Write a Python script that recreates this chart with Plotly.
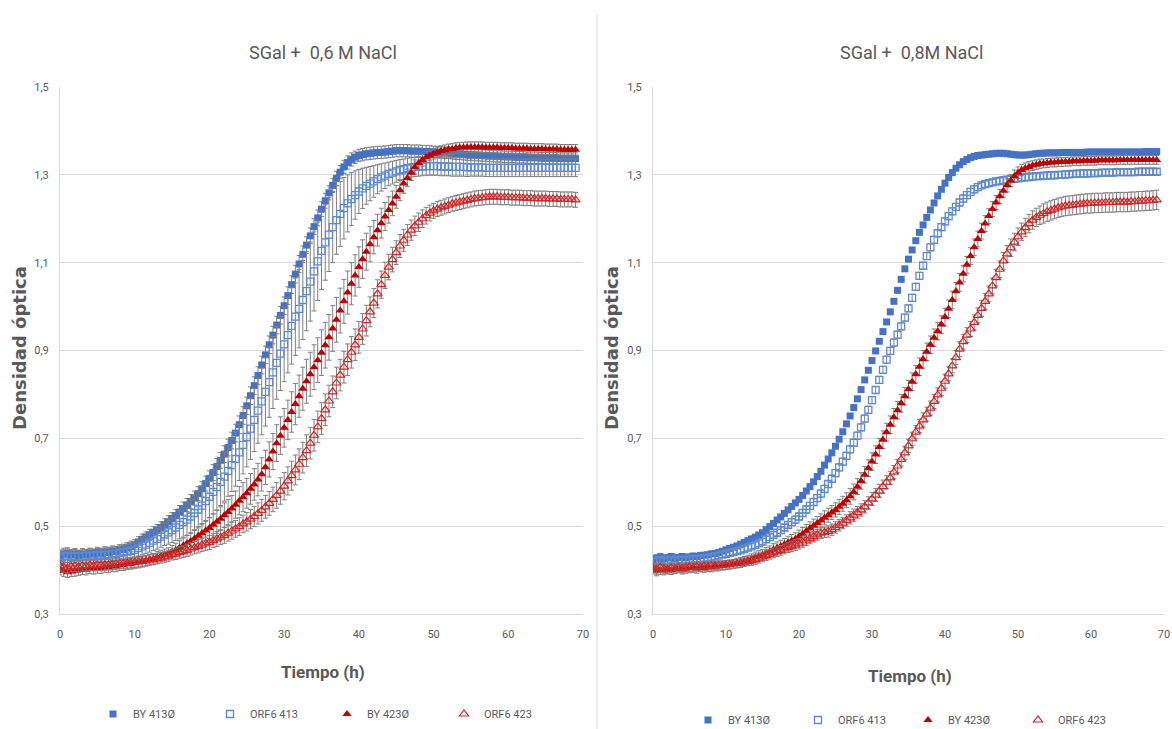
import plotly.graph_objects as go

# Time grid (h), one reading every 0.5 h from 0 to 69 h
time_h = [i * 0.5 for i in range(139)]

# ---------------- Left panel: SGal + 0,6 M NaCl ----------------
L_BY413 = [
 0.432,0.436,0.438,0.434,0.436,0.433,0.437,0.435,0.438,0.436,
 0.440,0.438,0.441,0.440,0.443,0.442,0.446,0.447,0.451,0.454,
 0.458,0.464,0.470,0.475,0.480,0.486,0.491,0.497,0.503,0.510,
 0.517,0.524,0.532,0.540,0.548,0.556,0.564,0.574,0.585,0.597,
 0.609,0.622,0.636,0.650,0.664,0.679,0.695,0.712,0.731,0.752,
 0.774,0.797,0.820,0.843,0.867,0.890,0.913,0.935,0.958,0.980,
 1.002,1.025,1.050,1.074,1.097,1.119,1.140,1.161,1.182,1.202,
 1.222,1.241,1.259,1.276,1.292,1.306,1.318,1.328,1.335,1.340,
 1.344,1.346,1.348,1.349,1.350,1.351,1.351,1.352,1.353,1.354,
 1.355,1.355,1.355,1.355,1.354,1.354,1.354,1.353,1.353,1.353,
 1.352,1.352,1.351,1.350,1.350,1.349,1.348,1.348,1.347,1.346,
 1.346,1.345,1.345,1.344,1.344,1.343,1.343,1.342,1.342,1.341,
 1.341,1.341,1.340,1.340,1.340,1.339,1.339,1.339,1.339,1.338,
 1.338,1.338,1.338,1.338,1.337,1.337,1.337,1.337,1.337]
L_ORF413 = [
 0.428,0.431,0.433,0.430,0.432,0.430,0.433,0.431,0.433,0.432,
 0.434,0.433,0.435,0.435,0.437,0.437,0.439,0.440,0.442,0.444,
 0.446,0.450,0.454,0.458,0.462,0.467,0.471,0.476,0.481,0.486,
 0.491,0.497,0.503,0.509,0.515,0.522,0.530,0.538,0.547,0.557,
 0.567,0.578,0.589,0.601,0.613,0.626,0.639,0.653,0.668,0.685,
 0.703,0.722,0.742,0.763,0.784,0.806,0.828,0.850,0.872,0.893,
 0.914,0.935,0.956,0.977,0.995,1.015,1.035,1.057,1.080,1.103,
 1.127,1.146,1.164,1.181,1.197,1.211,1.224,1.235,1.245,1.254,
 1.262,1.269,1.275,1.280,1.285,1.290,1.294,1.298,1.302,1.305,
 1.308,1.311,1.313,1.315,1.317,1.318,1.319,1.319,1.320,1.320,
 1.320,1.320,1.319,1.319,1.319,1.318,1.318,1.318,1.318,1.317,
 1.317,1.317,1.317,1.317,1.316,1.316,1.316,1.316,1.316,1.316,
 1.316,1.316,1.316,1.316,1.316,1.316,1.316,1.316,1.316,1.316,
 1.316,1.316,1.316,1.316,1.316,1.316,1.316,1.316,1.316]
L_BY423 = [
 0.402,0.398,0.395,0.397,0.398,0.400,0.402,0.401,0.404,0.403,
 0.405,0.404,0.407,0.406,0.409,0.408,0.411,0.411,0.413,0.414,
 0.416,0.417,0.419,0.421,0.424,0.426,0.429,0.432,0.435,0.438,
 0.442,0.446,0.451,0.456,0.461,0.466,0.472,0.478,0.484,0.490,
 0.496,0.503,0.510,0.517,0.525,0.532,0.540,0.549,0.558,0.566,
 0.575,0.585,0.595,0.606,0.618,0.634,0.652,0.670,0.689,0.706,
 0.724,0.742,0.760,0.778,0.796,0.813,0.830,0.846,0.862,0.878,
 0.895,0.912,0.930,0.950,0.970,0.991,1.012,1.032,1.052,1.071,
 1.090,1.108,1.125,1.142,1.158,1.174,1.190,1.205,1.220,1.235,
 1.250,1.265,1.280,1.293,1.305,1.318,1.327,1.334,1.340,1.344,
 1.348,1.351,1.354,1.356,1.358,1.359,1.361,1.362,1.362,1.363,
 1.363,1.363,1.363,1.363,1.362,1.362,1.362,1.362,1.361,1.361,
 1.361,1.361,1.360,1.360,1.360,1.360,1.359,1.359,1.359,1.359,
 1.358,1.358,1.358,1.358,1.357,1.357,1.357,1.357,1.357]
L_ORF423 = [
 0.410,0.407,0.405,0.408,0.409,0.407,0.410,0.409,0.411,0.410,
 0.411,0.411,0.412,0.412,0.413,0.414,0.415,0.415,0.416,0.417,
 0.418,0.419,0.420,0.421,0.423,0.424,0.426,0.428,0.430,0.432,
 0.435,0.437,0.440,0.442,0.445,0.448,0.451,0.454,0.457,0.460,
 0.463,0.467,0.471,0.475,0.479,0.484,0.489,0.494,0.499,0.505,
 0.510,0.516,0.522,0.529,0.536,0.544,0.552,0.561,0.570,0.580,
 0.591,0.603,0.615,0.628,0.641,0.656,0.672,0.689,0.707,0.726,
 0.745,0.765,0.785,0.806,0.826,0.844,0.862,0.879,0.896,0.913,
 0.930,0.949,0.968,0.988,1.008,1.029,1.050,1.071,1.090,1.107,
 1.123,1.138,1.151,1.163,1.174,1.184,1.192,1.200,1.207,1.213,
 1.218,1.222,1.225,1.228,1.231,1.234,1.236,1.238,1.240,1.242,
 1.244,1.246,1.247,1.248,1.249,1.250,1.250,1.250,1.249,1.249,
 1.249,1.248,1.248,1.248,1.247,1.247,1.247,1.246,1.246,1.246,
 1.246,1.245,1.245,1.245,1.244,1.244,1.244,1.244,1.243]

# standard deviations (left)
E_L_BY413 = [
 0.014,0.014,0.013,0.013,0.013,0.012,0.012,0.012,0.012,0.012,
 0.012,0.012,0.012,0.012,0.012,0.012,0.012,0.012,0.012,0.012,
 0.012,0.012,0.012,0.012,0.013,0.013,0.013,0.013,0.014,0.014,
 0.014,0.014,0.015,0.015,0.015,0.016,0.016,0.016,0.017,0.017,
 0.017,0.018,0.018,0.018,0.019,0.019,0.019,0.020,0.020,0.020,
 0.020,0.020,0.020,0.020,0.020,0.020,0.020,0.020,0.020,0.020,
 0.020,0.020,0.020,0.020,0.019,0.019,0.019,0.018,0.018,0.018,
 0.017,0.017,0.016,0.016,0.016,0.015,0.015,0.015,0.015,0.014,
 0.014,0.014,0.014,0.014,0.014,0.014,0.014,0.014,0.014,0.014,
 0.014,0.014,0.014,0.014,0.014,0.014,0.014,0.014,0.014,0.014,
 0.013,0.013,0.013,0.013,0.013,0.013,0.013,0.013,0.013,0.013,
 0.013,0.013,0.013,0.013,0.013,0.013,0.013,0.013,0.013,0.013,
 0.013,0.013,0.013,0.013,0.013,0.013,0.013,0.013,0.013,0.013,
 0.013,0.013,0.013,0.013,0.013,0.013,0.013,0.013,0.013]
E_L_ORF413 = [
 0.015,0.015,0.015,0.015,0.015,0.015,0.015,0.015,0.015,0.015,
 0.015,0.015,0.015,0.015,0.015,0.016,0.016,0.016,0.017,0.017,
 0.018,0.018,0.019,0.020,0.021,0.022,0.023,0.024,0.025,0.027,
 0.028,0.030,0.032,0.034,0.036,0.038,0.040,0.042,0.044,0.046,
 0.048,0.050,0.052,0.054,0.056,0.058,0.060,0.062,0.064,0.066,
 0.068,0.070,0.072,0.074,0.076,0.078,0.080,0.082,0.083,0.084,
 0.085,0.086,0.087,0.088,0.089,0.090,0.090,0.090,0.090,0.089,
 0.088,0.086,0.084,0.081,0.078,0.074,0.070,0.065,0.060,0.055,
 0.050,0.046,0.042,0.039,0.036,0.033,0.031,0.029,0.027,0.026,
 0.025,0.024,0.023,0.023,0.022,0.022,0.022,0.021,0.021,0.021,
 0.021,0.021,0.021,0.021,0.021,0.021,0.021,0.021,0.021,0.021,
 0.020,0.020,0.020,0.020,0.020,0.020,0.020,0.020,0.020,0.020,
 0.020,0.020,0.020,0.020,0.020,0.020,0.020,0.020,0.020,0.020,
 0.020,0.020,0.020,0.020,0.020,0.020,0.020,0.020,0.020]
E_L_BY423 = [
 0.013,0.013,0.012,0.012,0.012,0.012,0.012,0.012,0.012,0.012,
 0.012,0.012,0.012,0.012,0.012,0.012,0.012,0.012,0.012,0.012,
 0.012,0.012,0.012,0.012,0.012,0.012,0.013,0.013,0.013,0.013,
 0.014,0.015,0.016,0.017,0.018,0.019,0.020,0.021,0.022,0.023,
 0.024,0.025,0.026,0.027,0.028,0.029,0.030,0.031,0.032,0.033,
 0.034,0.035,0.036,0.037,0.038,0.039,0.040,0.041,0.042,0.043,
 0.044,0.045,0.046,0.047,0.048,0.049,0.050,0.050,0.051,0.051,
 0.052,0.052,0.052,0.052,0.051,0.051,0.050,0.049,0.048,0.047,
 0.046,0.044,0.042,0.040,0.038,0.036,0.034,0.032,0.030,0.028,
 0.026,0.024,0.022,0.020,0.018,0.016,0.015,0.014,0.013,0.012,
 0.012,0.012,0.012,0.012,0.012,0.012,0.012,0.012,0.012,0.012,
 0.012,0.012,0.012,0.012,0.012,0.012,0.012,0.012,0.012,0.012,
 0.012,0.012,0.012,0.012,0.012,0.012,0.012,0.012,0.012,0.012,
 0.012,0.012,0.012,0.012,0.012,0.012,0.012,0.012,0.012]
E_L_ORF423 = [
 0.012,0.012,0.012,0.012,0.012,0.012,0.012,0.012,0.012,0.012,
 0.012,0.012,0.012,0.012,0.012,0.012,0.012,0.012,0.012,0.012,
 0.012,0.012,0.012,0.012,0.012,0.012,0.012,0.012,0.012,0.012,
 0.012,0.013,0.013,0.013,0.014,0.014,0.014,0.015,0.015,0.015,
 0.016,0.016,0.017,0.017,0.018,0.018,0.019,0.019,0.020,0.020,
 0.021,0.022,0.023,0.024,0.025,0.026,0.027,0.028,0.029,0.030,
 0.031,0.032,0.033,0.034,0.035,0.035,0.036,0.036,0.036,0.036,
 0.036,0.036,0.036,0.036,0.036,0.036,0.036,0.036,0.036,0.036,
 0.036,0.035,0.035,0.034,0.033,0.032,0.031,0.030,0.029,0.028,
 0.027,0.026,0.025,0.024,0.023,0.022,0.021,0.020,0.019,0.018,
 0.017,0.017,0.017,0.017,0.017,0.017,0.017,0.017,0.017,0.017,
 0.017,0.017,0.017,0.017,0.017,0.017,0.017,0.017,0.017,0.017,
 0.017,0.017,0.017,0.017,0.017,0.017,0.017,0.017,0.017,0.017,
 0.017,0.017,0.017,0.017,0.017,0.017,0.017,0.017,0.017]

# ---------------- Right panel: SGal + 0,8M NaCl ----------------
R_BY413 = [
 0.423,0.427,0.430,0.426,0.428,0.431,0.427,0.429,0.431,0.428,
 0.430,0.432,0.431,0.433,0.434,0.435,0.437,0.438,0.440,0.443,
 0.446,0.449,0.452,0.455,0.459,0.463,0.467,0.471,0.475,0.480,
 0.485,0.492,0.499,0.506,0.514,0.521,0.529,0.537,0.545,0.553,
 0.561,0.570,0.580,0.590,0.601,0.613,0.625,0.639,0.653,0.667,
 0.682,0.698,0.715,0.733,0.751,0.770,0.790,0.811,0.833,0.855,
 0.877,0.899,0.921,0.943,0.965,0.988,1.012,1.037,1.062,1.086,
 1.108,1.129,1.150,1.169,1.186,1.203,1.220,1.236,1.252,1.267,
 1.281,1.294,1.305,1.315,1.323,1.330,1.335,1.339,1.342,1.344,
 1.345,1.346,1.347,1.348,1.349,1.349,1.349,1.348,1.347,1.346,
 1.345,1.345,1.345,1.346,1.347,1.348,1.349,1.349,1.350,1.350,
 1.350,1.350,1.351,1.351,1.351,1.351,1.351,1.351,1.351,1.352,
 1.352,1.352,1.352,1.352,1.352,1.352,1.352,1.352,1.352,1.352,
 1.352,1.352,1.352,1.352,1.352,1.353,1.353,1.353,1.353]
R_ORF413 = [
 0.418,0.421,0.423,0.420,0.422,0.424,0.421,0.423,0.424,0.422,
 0.424,0.425,0.425,0.426,0.427,0.428,0.429,0.431,0.433,0.435,
 0.437,0.439,0.441,0.443,0.445,0.448,0.451,0.454,0.457,0.461,
 0.465,0.470,0.475,0.480,0.485,0.491,0.497,0.503,0.509,0.515,
 0.522,0.530,0.538,0.546,0.555,0.564,0.574,0.585,0.596,0.608,
 0.621,0.634,0.647,0.660,0.675,0.690,0.706,0.725,0.745,0.765,
 0.787,0.810,0.833,0.856,0.879,0.899,0.918,0.936,0.955,0.975,
 0.996,1.020,1.045,1.070,1.093,1.115,1.135,1.152,1.167,1.181,
 1.194,1.206,1.217,1.227,1.237,1.246,1.254,1.261,1.267,1.272,
 1.276,1.279,1.281,1.283,1.285,1.286,1.288,1.289,1.290,1.291,
 1.292,1.293,1.294,1.295,1.296,1.297,1.297,1.298,1.298,1.299,
 1.299,1.300,1.300,1.301,1.301,1.302,1.302,1.303,1.303,1.303,
 1.304,1.304,1.304,1.305,1.305,1.305,1.305,1.306,1.306,1.306,
 1.306,1.306,1.306,1.307,1.307,1.307,1.307,1.307,1.307]
R_BY423 = [
 0.402,0.398,0.401,0.399,0.403,0.400,0.402,0.404,0.401,0.403,
 0.404,0.405,0.403,0.406,0.405,0.407,0.406,0.408,0.408,0.410,
 0.411,0.412,0.414,0.416,0.418,0.420,0.423,0.426,0.429,0.432,
 0.435,0.439,0.443,0.447,0.451,0.455,0.459,0.463,0.467,0.471,
 0.477,0.483,0.489,0.495,0.501,0.507,0.513,0.519,0.525,0.531,
 0.537,0.544,0.551,0.559,0.568,0.578,0.590,0.603,0.617,0.632,
 0.647,0.663,0.680,0.697,0.714,0.731,0.748,0.764,0.780,0.796,
 0.812,0.829,0.846,0.863,0.880,0.897,0.913,0.929,0.944,0.959,
 0.976,0.995,1.015,1.035,1.055,1.075,1.095,1.115,1.135,1.154,
 1.172,1.189,1.206,1.222,1.237,1.251,1.264,1.276,1.287,1.297,
 1.305,1.311,1.315,1.318,1.321,1.323,1.325,1.326,1.327,1.328,
 1.328,1.329,1.329,1.330,1.330,1.331,1.331,1.331,1.332,1.332,
 1.332,1.332,1.333,1.333,1.333,1.333,1.333,1.333,1.334,1.334,
 1.334,1.334,1.334,1.334,1.334,1.334,1.334,1.334,1.334]
R_ORF423 = [
 0.405,0.402,0.406,0.403,0.401,0.405,0.403,0.406,0.404,0.406,
 0.407,0.406,0.408,0.407,0.409,0.408,0.410,0.410,0.411,0.411,
 0.412,0.413,0.414,0.415,0.416,0.418,0.420,0.422,0.424,0.427,
 0.430,0.433,0.436,0.439,0.442,0.445,0.448,0.451,0.454,0.457,
 0.460,0.464,0.468,0.472,0.476,0.480,0.484,0.486,0.488,0.492,
 0.497,0.502,0.507,0.513,0.519,0.525,0.531,0.537,0.544,0.553,
 0.562,0.571,0.580,0.590,0.600,0.610,0.623,0.637,0.652,0.667,
 0.683,0.699,0.714,0.728,0.742,0.755,0.769,0.784,0.799,0.814,
 0.830,0.847,0.865,0.884,0.903,0.920,0.935,0.949,0.964,0.980,
 0.996,1.012,1.029,1.047,1.066,1.085,1.104,1.120,1.134,1.147,
 1.159,1.170,1.180,1.189,1.197,1.203,1.208,1.212,1.216,1.219,
 1.222,1.225,1.227,1.229,1.230,1.231,1.232,1.233,1.234,1.235,
 1.235,1.236,1.236,1.236,1.237,1.237,1.237,1.238,1.238,1.238,
 1.238,1.239,1.239,1.240,1.240,1.241,1.241,1.242,1.243]

E_R_BY413 = [
 0.008,0.008,0.008,0.008,0.007,0.007,0.007,0.006,0.006,0.006,
 0.006,0.006,0.006,0.006,0.005,0.005,0.005,0.005,0.005,0.005,
 0.005,0.005,0.005,0.005,0.005,0.005,0.005,0.005,0.005,0.005,
 0.005,0.005,0.005,0.005,0.005,0.005,0.005,0.005,0.005,0.005,
 0.005,0.005,0.005,0.005,0.005,0.005,0.005,0.005,0.005,0.005,
 0.005,0.005,0.005,0.005,0.005,0.005,0.005,0.005,0.005,0.005,
 0.005,0.005,0.005,0.005,0.005,0.005,0.005,0.005,0.005,0.005,
 0.005,0.005,0.005,0.005,0.005,0.005,0.005,0.005,0.005,0.005,
 0.005,0.005,0.005,0.005,0.005,0.005,0.005,0.005,0.005,0.005,
 0.005,0.005,0.005,0.005,0.005,0.005,0.005,0.005,0.005,0.005,
 0.005,0.005,0.005,0.005,0.005,0.005,0.005,0.005,0.005,0.005,
 0.005,0.005,0.005,0.005,0.005,0.005,0.005,0.005,0.005,0.005,
 0.005,0.005,0.005,0.005,0.005,0.005,0.005,0.005,0.005,0.005,
 0.005,0.005,0.005,0.005,0.005,0.005,0.005,0.005,0.005]
E_R_ORF413 = [
 0.008,0.008,0.008,0.007,0.007,0.007,0.006,0.006,0.006,0.006,
 0.006,0.006,0.006,0.006,0.006,0.006,0.006,0.006,0.006,0.006,
 0.006,0.006,0.006,0.006,0.006,0.006,0.006,0.006,0.007,0.007,
 0.007,0.007,0.007,0.007,0.007,0.007,0.007,0.007,0.008,0.008,
 0.008,0.008,0.008,0.008,0.008,0.008,0.008,0.008,0.008,0.008,
 0.008,0.008,0.008,0.008,0.008,0.008,0.008,0.008,0.008,0.008,
 0.008,0.008,0.008,0.008,0.008,0.008,0.008,0.008,0.008,0.008,
 0.008,0.008,0.008,0.008,0.008,0.008,0.008,0.008,0.008,0.008,
 0.008,0.008,0.008,0.008,0.008,0.008,0.008,0.008,0.008,0.008,
 0.007,0.007,0.007,0.007,0.007,0.007,0.007,0.007,0.007,0.007,
 0.007,0.007,0.007,0.007,0.007,0.007,0.007,0.007,0.007,0.007,
 0.007,0.007,0.007,0.007,0.007,0.007,0.007,0.007,0.007,0.007,
 0.007,0.007,0.007,0.007,0.007,0.007,0.007,0.007,0.007,0.007,
 0.007,0.007,0.007,0.007,0.007,0.007,0.007,0.007,0.007]
E_R_BY423 = [
 0.011,0.011,0.011,0.010,0.010,0.010,0.010,0.010,0.010,0.010,
 0.010,0.010,0.010,0.010,0.010,0.010,0.010,0.010,0.010,0.010,
 0.010,0.010,0.010,0.011,0.011,0.011,0.011,0.011,0.012,0.012,
 0.012,0.012,0.012,0.013,0.013,0.013,0.013,0.014,0.014,0.014,
 0.014,0.014,0.015,0.015,0.015,0.015,0.015,0.016,0.016,0.016,
 0.016,0.017,0.017,0.017,0.018,0.018,0.018,0.019,0.019,0.019,
 0.020,0.020,0.020,0.020,0.020,0.020,0.020,0.020,0.020,0.020,
 0.020,0.020,0.020,0.020,0.020,0.020,0.020,0.020,0.020,0.020,
 0.020,0.020,0.020,0.020,0.020,0.019,0.019,0.019,0.019,0.018,
 0.018,0.018,0.017,0.017,0.016,0.016,0.015,0.015,0.014,0.014,
 0.013,0.013,0.012,0.012,0.011,0.011,0.011,0.010,0.010,0.010,
 0.010,0.010,0.010,0.010,0.010,0.010,0.010,0.010,0.010,0.010,
 0.010,0.010,0.010,0.010,0.010,0.010,0.010,0.010,0.010,0.010,
 0.010,0.010,0.010,0.010,0.010,0.010,0.010,0.010,0.010]
E_R_ORF423 = [
 0.011,0.011,0.011,0.010,0.010,0.010,0.010,0.010,0.010,0.010,
 0.010,0.010,0.010,0.010,0.010,0.010,0.010,0.010,0.010,0.010,
 0.010,0.010,0.010,0.010,0.010,0.010,0.010,0.011,0.011,0.011,
 0.011,0.011,0.011,0.011,0.011,0.011,0.011,0.011,0.012,0.012,
 0.012,0.012,0.012,0.012,0.012,0.012,0.012,0.012,0.013,0.013,
 0.013,0.013,0.013,0.013,0.014,0.014,0.014,0.014,0.014,0.014,
 0.015,0.015,0.015,0.015,0.015,0.015,0.015,0.015,0.015,0.015,
 0.015,0.015,0.015,0.015,0.016,0.016,0.016,0.016,0.016,0.016,
 0.016,0.016,0.016,0.016,0.017,0.017,0.017,0.017,0.017,0.017,
 0.018,0.018,0.018,0.018,0.019,0.019,0.019,0.019,0.020,0.020,
 0.020,0.020,0.021,0.021,0.021,0.021,0.021,0.022,0.022,0.022,
 0.022,0.022,0.022,0.022,0.022,0.022,0.022,0.022,0.022,0.022,
 0.022,0.022,0.022,0.022,0.022,0.022,0.022,0.022,0.022,0.022,
 0.022,0.022,0.022,0.022,0.022,0.022,0.022,0.022,0.022]

series_names = ["BY 413Ø", "ORF6 413", "BY 423Ø", "ORF6 423"]
panel_titles = ["SGal +\u00a0 0,6 M NaCl", "SGal +\u00a0 0,8M NaCl"]
x_title = "Tiempo (h)"
y_title = "Densidad óptica"
y_ticks = [0.3, 0.5, 0.7, 0.9, 1.1, 1.3, 1.5]
y_ticktext = ["0,3", "0,5", "0,7", "0,9", "1,1", "1,3", "1,5"]
x_ticks = [0, 10, 20, 30, 40, 50, 60, 70]

left_values = [L_BY413, L_ORF413, L_BY423, L_ORF423]
left_errors = [E_L_BY413, E_L_ORF413, E_L_BY423, E_L_ORF423]
right_values = [R_BY413, R_ORF413, R_BY423, R_ORF423]
right_errors = [E_R_BY413, E_R_ORF413, E_R_BY423, E_R_ORF423]

styles = [
    dict(symbol="square", color="#4472C4", size=7, line=dict(width=0)),
    dict(symbol="square-open", color="#5A8AD6", size=7, line=dict(width=1.3)),
    dict(symbol="triangle-up", color="#C00000", size=8, line=dict(width=0)),
    dict(symbol="triangle-up-open", color="#D42424", size=8, line=dict(width=1.2)),
]

FONT = "Roboto, Liberation Sans, sans-serif"
GREY = "#595959"

W, H = 1172, 729
ML, MR, MT, MB = 60, 8, 87, 115
PW, PH = W - ML - MR, H - MT - MB


def px_x(px):
    return (px - ML) / PW


def px_y(py):
    return (H - MB - py) / PH


fig = go.Figure()
for panel, (vals, errs) in enumerate([(left_values, left_errors), (right_values, right_errors)]):
    xa = "x" if panel == 0 else "x2"
    ya = "y" if panel == 0 else "y2"
    lg = "legend" if panel == 0 else "legend2"
    for name, v, e, st in zip(series_names, vals, errs, styles):
        fig.add_trace(go.Scatter(
            x=time_h, y=v, mode="markers", name=name,
            xaxis=xa, yaxis=ya, legend=lg,
            marker=st,
            error_y=dict(type="data", array=e, visible=True,
                         color="#7F7F7F", thickness=1, width=2.5),
        ))

axis_common = dict(showline=True, linecolor="#D9D9D9", linewidth=1,
                   tickfont=dict(family=FONT, size=11, color=GREY),
                   zeroline=False, ticks="", automargin=False)
fig.update_layout(
    xaxis=dict(domain=[0, px_x(583)], range=[0, 70], tickvals=x_ticks, showgrid=False,
               anchor="y", ticklabelstandoff=10, **axis_common),
    yaxis=dict(domain=[0, 1], range=[0.3, 1.5], tickvals=y_ticks, ticktext=y_ticktext,
               showgrid=True, gridcolor="#D9D9D9", anchor="x", ticklabelstandoff=8,
               **axis_common),
    xaxis2=dict(domain=[px_x(653), 1.0], range=[0, 70], tickvals=x_ticks, showgrid=False,
                anchor="y2", ticklabelstandoff=10, **axis_common),
    yaxis2=dict(domain=[0, 1], range=[0.3, 1.5], tickvals=y_ticks, ticktext=y_ticktext,
                showgrid=True, gridcolor="#D9D9D9", anchor="x2", ticklabelstandoff=8,
                **axis_common),
    width=W, height=H,
    margin=dict(l=ML, r=MR, t=MT, b=MB, autoexpand=False),
    paper_bgcolor="white", plot_bgcolor="white",
    legend=dict(orientation="h", x=(93 - ML) / PW, y=px_y(714), xanchor="left", yanchor="middle",
                entrywidth=72, font=dict(family=FONT, size=11, color=GREY),
                itemwidth=30, bgcolor="rgba(0,0,0,0)"),
    legend2=dict(orientation="h", x=(688 - ML) / PW, y=px_y(720), xanchor="left", yanchor="middle",
                 entrywidth=65, font=dict(family=FONT, size=11, color=GREY),
                 itemwidth=30, bgcolor="rgba(0,0,0,0)"),
    showlegend=True,
)

# panel titles, axis titles
for xc, title in zip([px_x(323), px_x(911)], panel_titles):
    fig.add_annotation(x=xc, y=px_y(52), xref="paper", yref="paper", text=title,
                       xanchor="center", yanchor="middle",
                       showarrow=False, font=dict(family=FONT, size=18, color=GREY))
for xc, yc in zip([px_x(323), px_x(910)], [px_y(672), px_y(676)]):
    fig.add_annotation(x=xc, y=yc, xref="paper", yref="paper", text="<b>" + x_title + "</b>",
                       xanchor="center", yanchor="middle",
                       showarrow=False, font=dict(family=FONT, size=17, color=GREY))
for xc in [px_x(19), px_x(611)]:
    fig.add_annotation(x=xc, y=px_y(348), xref="paper", yref="paper", text="<b>" + y_title + "</b>",
                       xanchor="center", yanchor="middle",
                       textangle=-90, showarrow=False,
                       font=dict(family="DejaVu Sans", size=18, color=GREY))

# separator between the two charts
fig.add_shape(type="line", xref="paper", yref="paper", x0=px_x(597), x1=px_x(597),
              y0=px_y(729), y1=px_y(15), line=dict(color="#D9D9D9", width=1))

fig.write_html("out.html", config={"displayModeBar": False},
               post_script="document.body.style.margin='0px';document.body.style.overflow='hidden';")
